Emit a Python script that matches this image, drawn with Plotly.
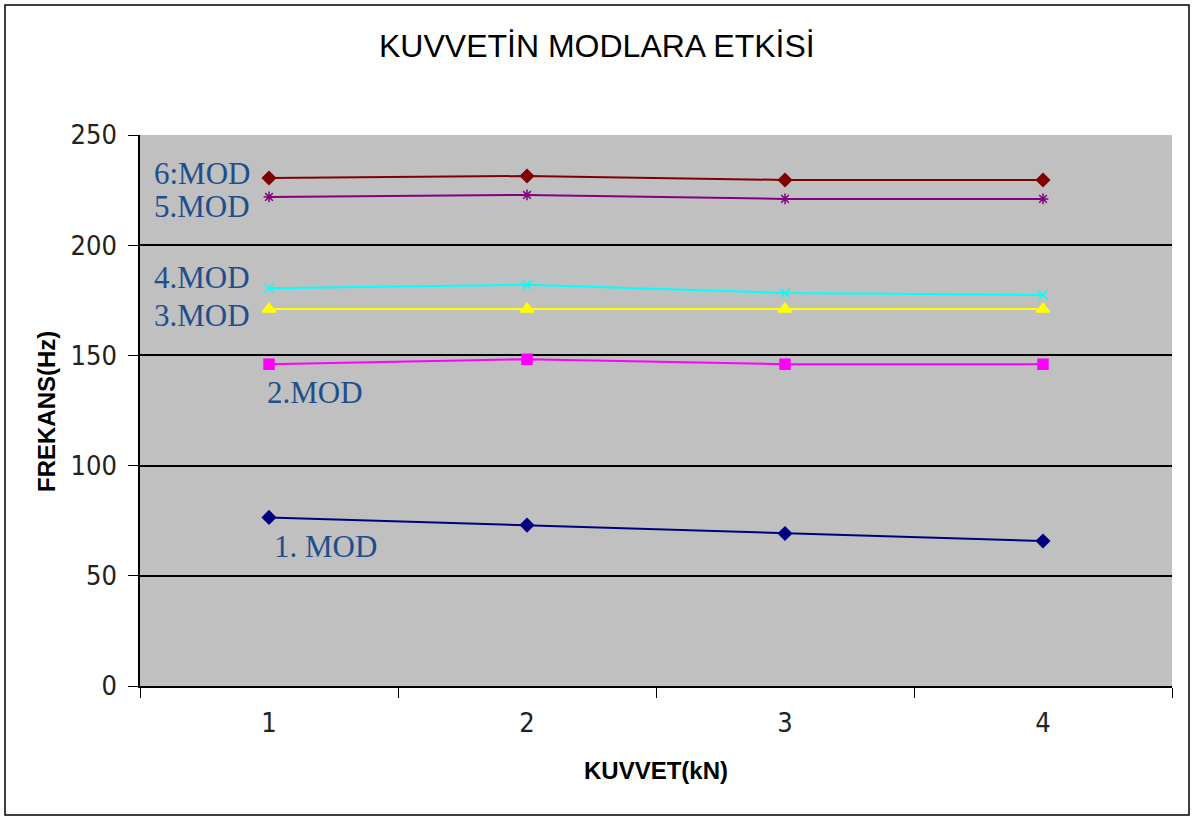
import plotly.graph_objects as go

kuvvet = [1, 2, 3, 4]
mod1 = [76.5, 73.0, 69.2, 65.8]
mod2 = [146.0, 148.3, 146.0, 146.0]
mod3 = [171.0, 171.0, 171.0, 171.0]
mod4 = [180.5, 182.0, 178.3, 177.4]
mod5 = [221.9, 222.8, 221.0, 221.0]
mod6 = [230.5, 231.4, 229.6, 229.6]

series = [
    ("1. MOD", mod1, "#000080", "diamond", 10),
    ("2.MOD", mod2, "#FF00FF", "square", 10),
    ("3.MOD", mod3, "#FFFF00", "triangle-up", 12),
    ("4.MOD", mod4, "#00FFFF", "x-thin", 9),
    ("5.MOD", mod5, "#800080", "asterisk", 9),
    ("6:MOD", mod6, "#800000", "diamond", 10),
]

fig = go.Figure()
for name, vals, col, sym, sz in series:
    fig.add_trace(go.Scatter(
        x=kuvvet, y=vals, mode="lines+markers", name=name,
        line=dict(color=col, width=2),
        marker=dict(symbol=sym, size=sz, color=col, line=dict(color=col, width=1.5)),
        showlegend=False,
    ))

label_font = dict(family="Liberation Serif", size=31, color="#1F4E8C")
labels = [
    ("6:MOD", 0.74, 232.5),
    ("5.MOD", 0.74, 217.5),
    ("4.MOD", 0.74, 185.5),
    ("3.MOD", 0.74, 168.0),
    ("2.MOD", 1.18, 133.0),
    ("1. MOD", 1.22, 63.5),
]
for txt, xv, yv in labels:
    fig.add_annotation(x=xv, y=yv, text=txt, showarrow=False, font=label_font,
                       xanchor="center", yanchor="middle")

W, H = 1194, 819
L, R, T, B = 140, 1172, 135, 686
pw, ph = R - L, B - T

def px(x):
    return (x - L) / pw

def py(y):
    return (B - y) / ph

fig.add_shape(type="rect", xref="paper", yref="paper",
              x0=px(5), x1=px(1189), y0=py(815), y1=py(5),
              line=dict(color="black", width=1.5), fillcolor="rgba(0,0,0,0)", layer="below")

# title and axis titles as text placed in paper coordinates
fig.add_annotation(xref="paper", yref="paper", x=px(597), y=py(46), text="KUVVETİN MODLARA ETKİSİ",
                   showarrow=False, xanchor="center", yanchor="middle",
                   font=dict(family="Liberation Sans", size=32, color="black"))
fig.add_annotation(xref="paper", yref="paper", x=px(656), y=py(770), text="<b>KUVVET(kN)</b>",
                   showarrow=False, xanchor="center", yanchor="middle",
                   font=dict(family="Liberation Sans", size=24, color="black"))
fig.add_annotation(xref="paper", yref="paper", x=px(46), y=py(412), text="<b>FREKANS(Hz)</b>",
                   showarrow=False, xanchor="center", yanchor="middle", textangle=-90,
                   font=dict(family="Liberation Sans", size=24, color="black"))

tick_font = dict(family="Liberation Sans Narrow, Arial Narrow, DejaVu Sans Condensed, sans-serif",
                 size=27, color="#222222")

fig.update_layout(
    width=W, height=H,
    margin=dict(l=L, r=W - R, t=T, b=H - B),
    paper_bgcolor="white",
    plot_bgcolor="#C0C0C0",
    xaxis=dict(
        range=[0.5, 4.5], tickvals=kuvvet, ticktext=[str(k) for k in kuvvet], ticks="",
        showgrid=False, zeroline=False, showline=True, linecolor="black", linewidth=1.5,
        tickfont=tick_font, ticklabelstandoff=12,
        minor=dict(tick0=0.5, dtick=1, ticks="outside", ticklen=10, tickcolor="black", showgrid=False),
    ),
    yaxis=dict(
        range=[0, 250], tickvals=[0, 50, 100, 150, 200, 250], ticks="outside", ticklen=10,
        tickcolor="black", showgrid=True, gridcolor="black", gridwidth=1.5,
        zeroline=False, showline=True, linecolor="black", linewidth=1.5,
        tickfont=tick_font, ticklabelstandoff=6,
    ),
)

fig.write_html("out.html")
